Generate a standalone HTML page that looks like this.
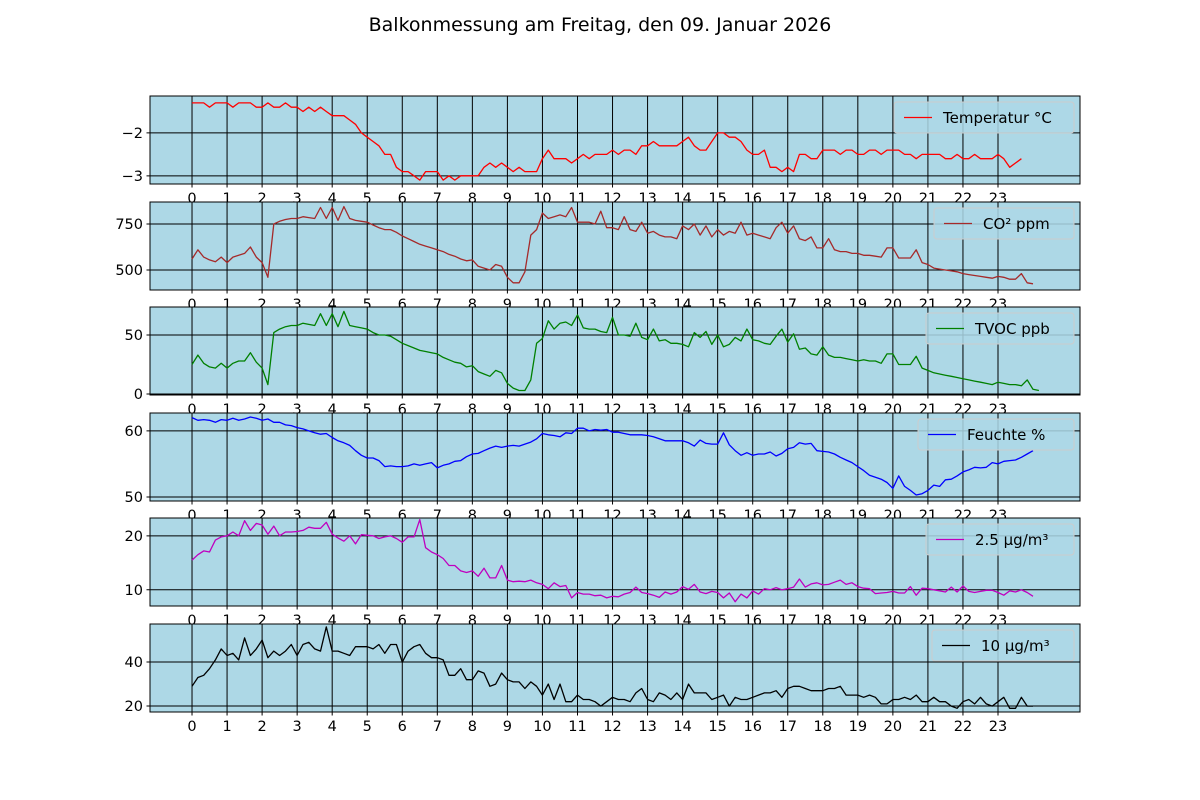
<!DOCTYPE html>
<html><head><meta charset="utf-8"><style>
body{margin:0;background:#fff}
svg{display:block;font-family:"DejaVu Sans","Liberation Sans",sans-serif}
</style></head><body>
<svg id="chart" width="1200" height="800" xmlns="http://www.w3.org/2000/svg">
<text x="600" y="31" text-anchor="middle" font-size="19">Balkonmessung am Freitag, den 09. Januar 2026</text>
</svg>
<script>
const hours = [0,1,2,3,4,5,6,7,8,9,10,11,12,13,14,15,16,17,18,19,20,21,22,23];
const temperature = [-1.3,-1.3,-1.3,-1.4,-1.3,-1.3,-1.3,-1.4,-1.3,-1.3,-1.3,-1.4,-1.4,-1.3,-1.4,-1.4,-1.3,-1.4,-1.4,-1.5,-1.4,-1.5,-1.4,-1.5,-1.6,-1.6,-1.6,-1.7,-1.8,-2.0,-2.1,-2.2,-2.3,-2.5,-2.5,-2.8,-2.9,-2.9,-3.0,-3.1,-2.9,-2.9,-2.9,-3.1,-3.0,-3.1,-3.0,-3.0,-3.0,-3.0,-2.8,-2.7,-2.8,-2.7,-2.8,-2.9,-2.8,-2.9,-2.9,-2.9,-2.6,-2.4,-2.6,-2.6,-2.6,-2.7,-2.6,-2.5,-2.6,-2.5,-2.5,-2.5,-2.4,-2.5,-2.4,-2.4,-2.5,-2.3,-2.3,-2.2,-2.3,-2.3,-2.3,-2.3,-2.2,-2.1,-2.3,-2.4,-2.4,-2.2,-2.0,-2.0,-2.1,-2.1,-2.2,-2.4,-2.5,-2.5,-2.4,-2.8,-2.8,-2.9,-2.8,-2.9,-2.5,-2.5,-2.6,-2.6,-2.4,-2.4,-2.4,-2.5,-2.4,-2.4,-2.5,-2.5,-2.4,-2.4,-2.5,-2.4,-2.4,-2.4,-2.5,-2.5,-2.6,-2.5,-2.5,-2.5,-2.5,-2.6,-2.6,-2.5,-2.6,-2.6,-2.5,-2.6,-2.6,-2.6,-2.5,-2.6,-2.8,-2.7,-2.6];
const co2 = [560,610,570,555,545,570,540,570,580,590,625,570,540,460,750,765,775,780,780,790,785,780,840,780,840,770,845,780,770,765,760,745,730,720,720,705,685,670,655,640,630,620,610,600,585,575,560,550,555,520,510,500,530,520,460,430,430,490,690,720,810,780,790,800,790,840,760,760,760,750,820,730,730,720,790,720,710,760,700,710,690,680,680,670,740,720,750,690,740,680,720,690,710,700,760,690,700,690,680,670,730,760,700,740,670,660,680,620,620,670,610,600,600,590,590,580,580,575,570,620,620,565,565,565,610,540,530,510,505,500,495,490,480,475,470,465,460,455,465,460,450,450,480,430,425];
const tvoc = [25,33,26,23,22,26,22,26,28,28,35,27,22,8,52,55,57,58,58,60,59,58,68,58,68,57,70,58,57,56,55,52,50,50,49,46,43,41,39,37,36,35,34,31,29,27,26,23,24,19,17,15,20,18,9,5,3,3,12,43,47,62,55,60,61,58,67,56,55,55,53,52,65,50,50,49,60,48,46,55,45,46,43,43,42,40,52,48,53,42,50,40,42,48,45,55,46,45,43,42,49,55,44,51,38,39,34,33,40,33,31,31,30,29,28,29,28,28,26,34,34,25,25,25,32,22,20,18,17,16,15,14,13,12,11,10,9,8,10,9,8,8,7,12,4,3];
const humidity = [62,61.6,61.7,61.6,61.3,61.7,61.6,61.9,61.6,61.8,62.1,61.9,61.6,61.8,61.3,61.3,60.9,60.8,60.5,60.3,60,59.7,59.5,59.6,59,58.5,58.2,57.8,57,56.3,55.9,55.9,55.5,54.6,54.7,54.6,54.6,54.7,55,54.8,55,55.2,54.4,54.8,55,55.4,55.5,56.1,56.5,56.6,57,57.4,57.7,57.5,57.7,57.8,57.7,58,58.3,58.8,59.6,59.4,59.3,59.1,59.7,59.6,60.4,60.4,60,60.2,60.1,60.2,59.8,59.8,59.6,59.4,59.4,59.4,59.3,59.1,58.8,58.5,58.5,58.5,58.5,58.2,57.7,58.6,58.1,58,58,59.7,57.9,57,56.3,56.7,56.3,56.5,56.5,56.8,56.2,56.6,57.3,57.5,58.2,58,58.1,57,56.9,56.8,56.5,56,55.6,55.2,54.6,54,53.3,53,52.7,52.2,51.3,53.2,51.6,51,50.3,50.5,51,51.8,51.6,52.6,52.7,53.2,53.8,54.1,54.5,54.4,54.5,55.2,55,55.4,55.5,55.6,56,56.5,57];
const pm25 = [15.5,16.5,17.2,17,19.2,19.8,20,20.7,20,22.8,21,22.3,22,20.3,21.8,20,20.7,20.7,20.8,21,21.6,21.4,21.4,22.5,20.3,19.6,19,20,18.5,20.2,20.1,20,19.5,19.8,20,19.5,18.8,19.8,19.8,23,17.8,17,16.5,15.8,14.5,14.5,13.5,13.2,13.5,12.5,14,12.2,12.2,14.5,11.8,11.5,11.6,11.5,11.8,11.3,11,10.2,11.3,10.6,10.8,8.5,9.5,9.2,9.2,8.9,9,8.5,8.8,8.7,9.2,9.5,10.5,9.5,9.3,9,8.6,9.6,9.2,9.6,10.6,10.1,11,9.6,9.3,9.7,9.5,8.5,9.4,7.8,9.2,8.5,9.8,9.2,10.2,10,10.4,10,10.2,10.5,12,10.5,11.1,11.3,10.9,11,11.4,11.8,11,11.3,10.6,10.3,10.2,9.3,9.4,9.5,9.7,9.4,9.4,10.6,9,10.3,10.2,10,9.8,9.6,10.5,9.6,10.7,9.7,9.5,9.7,9.9,9.9,9.5,9,9.8,9.6,10,9.5,8.8];
const pm10 = [29,33,34,37,41,46,43,44,41,51,43,46,50,42,45,43,45,48,43,48,49,46,45,56,45,45,44,43,47,47,47,46,48,44,48,48,40,45,47,48,44,42,42,41,34,34,37,32,32,36,35,29,30,35,32,31,31,28,31,29,25,30,23,30,22,22,25,23,23,22,20,22,24,23,23,22,26,28,23,22,26,25,23,26,23,30,26,26,26,23,24,25,20,24,23,23,24,25,26,26,27,24,28,29,29,28,27,27,27,28,28,29,25,25,25,24,25,24,21,21,23,23,24,23,25,22,22,24,22,22,20,19,22,23,21,24,21,20,22,24,19,19,24,20,20];
const labels = ["Temperatur °C","CO² ppm","TVOC ppb","Feuchte %","2.5 µg/m³","10 µg/m³"];
const yTicks = [[-3,-2],[500,750],[0,50],[50,60],[10,20],[20,40]];
const yRanges = [[-3.19,-1.14],[391,870],[-0.8,73.7],[49.4,62.7],[7.0,23.3],[17.3,57.3]];

const NS="http://www.w3.org/2000/svg";
const svg=document.getElementById('chart');
function mk(tag,attrs,parent){const e=document.createElementNS(NS,tag);for(const k in attrs)e.setAttribute(k,attrs[k]);(parent||svg).appendChild(e);return e;}
const series=[temperature,co2,tvoc,humidity,pm25,pm10];
const colors=["#ff0000","#a52a2a","#008000","#0000ff","#bf00bf","#000000"];
const tops=[96,202,307,413,518,624];
const H=88, L=150, R=1080;
const xMin=-1.199, xMax=25.34;
const xs=h=>L+(h-xMin)/(xMax-xMin)*(R-L);
const legW=[180,140,148,156,148,142];
series.forEach((data,p)=>{
  const top=tops[p], bot=top+H;
  const [y0,y1]=yRanges[p];
  const ys=v=>bot-(v-y0)/(y1-y0)*H;
  const g=mk('g',{});
  
  
  mk('rect',{x:L,y:top,width:R-L,height:H,fill:'#add8e6'},g);
  hours.forEach(h=>{
    const x=xs(h);
    mk('line',{x1:x,y1:top,x2:x,y2:bot+3.5,stroke:'#000','stroke-width':1},g);
    const t=mk('text',{x:x,y:bot+19,'text-anchor':'middle','font-size':14.5},g);
    t.textContent=h;
  });
  yTicks[p].forEach(v=>{
    const y=ys(v);
    mk('line',{x1:L-3.5,y1:y,x2:R,y2:y,stroke:'#000','stroke-width':1},g);
    const t=mk('text',{x:L-7,y:y+5,'text-anchor':'end','font-size':14.5},g);
    t.textContent=(v<0?'\u2212'+(-v):v);
  });
  const pts=data.map((v,i)=>xs(i/6).toFixed(1)+','+ys(v).toFixed(1)).join(' ');
  const pl=mk('polyline',{points:pts,fill:'none',stroke:colors[p],'stroke-width':1.3,'stroke-linejoin':'round'},g);
  
  
  const lw=legW[p], lx=R-6-lw, ly=top+6;
  const lg=mk('g',{},g);
  
  
  mk('rect',{x:lx,y:ly,width:lw,height:31,rx:3,fill:'#add8e6','fill-opacity':0.85,stroke:'#cccccc'},lg);
  mk('line',{x1:lx+10,y1:ly+15.5,x2:lx+38,y2:ly+15.5,stroke:colors[p],'stroke-width':1.3},lg);
  const lt=mk('text',{x:lx+49,y:ly+21,'font-size':15},lg);
  lt.textContent=labels[p];
  mk('rect',{x:L,y:top,width:R-L,height:H,fill:'none',stroke:'#000','stroke-width':1},g);
});
</script>
</body></html>
